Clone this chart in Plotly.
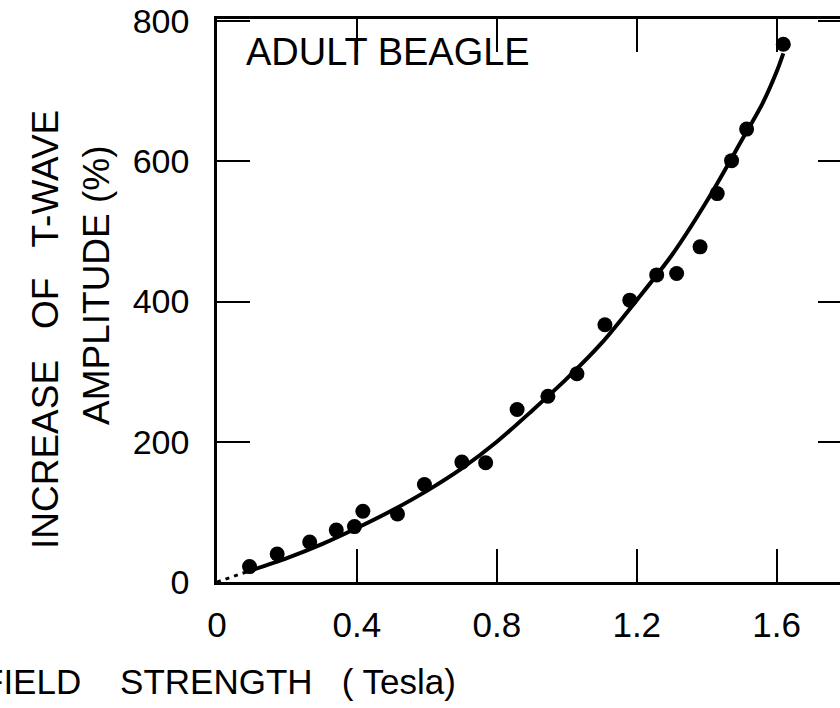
import plotly.graph_objects as go

# Measured points: field strength (Tesla) vs increase of T-wave amplitude (%)
field_T = [0.093, 0.172, 0.265, 0.341, 0.393, 0.417, 0.516, 0.593, 0.700, 0.768,
           0.858, 0.946, 1.029, 1.109, 1.180, 1.257, 1.314, 1.381, 1.430, 1.471,
           1.514, 1.619]
increase_pct = [22, 40, 57, 74, 79, 101, 97, 139, 171, 170,
                246, 265, 297, 367, 402, 438, 440, 478, 554, 601,
                646, 767]

# Fitted curve
curve_x = [0.10, 0.20, 0.30, 0.40, 0.50, 0.60, 0.70, 0.80, 0.90, 1.00,
           1.10, 1.20, 1.30, 1.40, 1.50, 1.56, 1.60, 1.619]
curve_y = [17, 34, 54, 77, 102, 130, 162, 200, 244, 290,
           341, 402, 466, 543, 630, 683, 728, 754]

# Dashed extrapolation to origin
dash_x = [0.0, 0.10]
dash_y = [0, 17]

x_ticks = [0, 0.4, 0.8, 1.2, 1.6]
x_tick_text = ["0", "0.4", "0.8", "1.2", "1.6"]
y_ticks = [0, 200, 400, 600, 800]

FONT = "Liberation Sans"
INK = "black"

fig = go.Figure()
fig.add_trace(go.Scatter(x=dash_x, y=dash_y, mode="lines",
                         line=dict(color=INK, width=3, dash="4px,5px"),
                         showlegend=False, hoverinfo="skip"))
fig.add_trace(go.Scatter(x=curve_x, y=curve_y, mode="lines",
                         line=dict(color=INK, width=4, shape="spline", smoothing=0.8),
                         showlegend=False))
fig.add_trace(go.Scatter(x=field_T, y=increase_pct, mode="markers",
                         marker=dict(color=INK, size=15),
                         showlegend=False))
# invisible trace to activate right-side tick axis
fig.add_trace(go.Scatter(x=[0], y=[0], yaxis="y2", mode="markers",
                         marker=dict(opacity=0), showlegend=False, hoverinfo="skip"))

fig.update_layout(
    width=840, height=708,
    margin=dict(l=217, r=0, t=19, b=126),
    paper_bgcolor="white", plot_bgcolor="white",
    font=dict(family=FONT, color=INK),
    xaxis=dict(range=[0, 1.781], tickvals=x_ticks, ticktext=x_tick_text,
               showgrid=False, zeroline=False, showline=True, linecolor=INK,
               linewidth=2.5, mirror="ticks", ticks="inside", ticklen=33,
               tickwidth=2, tickcolor=INK, tickfont=dict(size=35, family=FONT),
               ticklabelstandoff=10),
    yaxis=dict(range=[0, 803], tickvals=y_ticks, showgrid=False, zeroline=False,
               showline=True, linecolor=INK, linewidth=2.5, ticks="inside",
               ticklen=33, tickwidth=2, tickcolor=INK,
               tickfont=dict(size=34, family=FONT), ticklabelstandoff=18),
    yaxis2=dict(range=[0, 803], tickvals=y_ticks, overlaying="y", side="right",
                showgrid=False, zeroline=False, showline=False, ticks="inside",
                ticklen=22, tickwidth=2, tickcolor=INK, showticklabels=False),
)

fig.add_annotation(text="ADULT BEAGLE", xref="paper", yref="paper",
                   x=(244 - 217) / 623, y=(582 - 52) / 563, xanchor="left",
                   yanchor="middle", showarrow=False,
                   font=dict(size=38, family=FONT, color=INK))
fig.add_annotation(text="INCREASE   OF   T-WAVE", xref="paper", yref="paper",
                   x=(45 - 217) / 623, y=(582 - 330) / 563, xanchor="center",
                   yanchor="middle", textangle=-90, showarrow=False,
                   font=dict(size=37, family=FONT, color=INK))
fig.add_annotation(text="AMPLITUDE (%)", xref="paper", yref="paper",
                   x=(96 - 217) / 623, y=(582 - 285) / 563, xanchor="center",
                   yanchor="middle", textangle=-90, showarrow=False,
                   font=dict(size=37, family=FONT, color=INK))
fig.add_annotation(text="FIELD    STRENGTH   ( Tesla)", xref="paper", yref="paper",
                   x=(458 - 217) / 623, y=(582 - 681) / 563, xanchor="right",
                   yanchor="middle", showarrow=False,
                   font=dict(size=35, family=FONT, color=INK))

fig.write_html("out.html")
